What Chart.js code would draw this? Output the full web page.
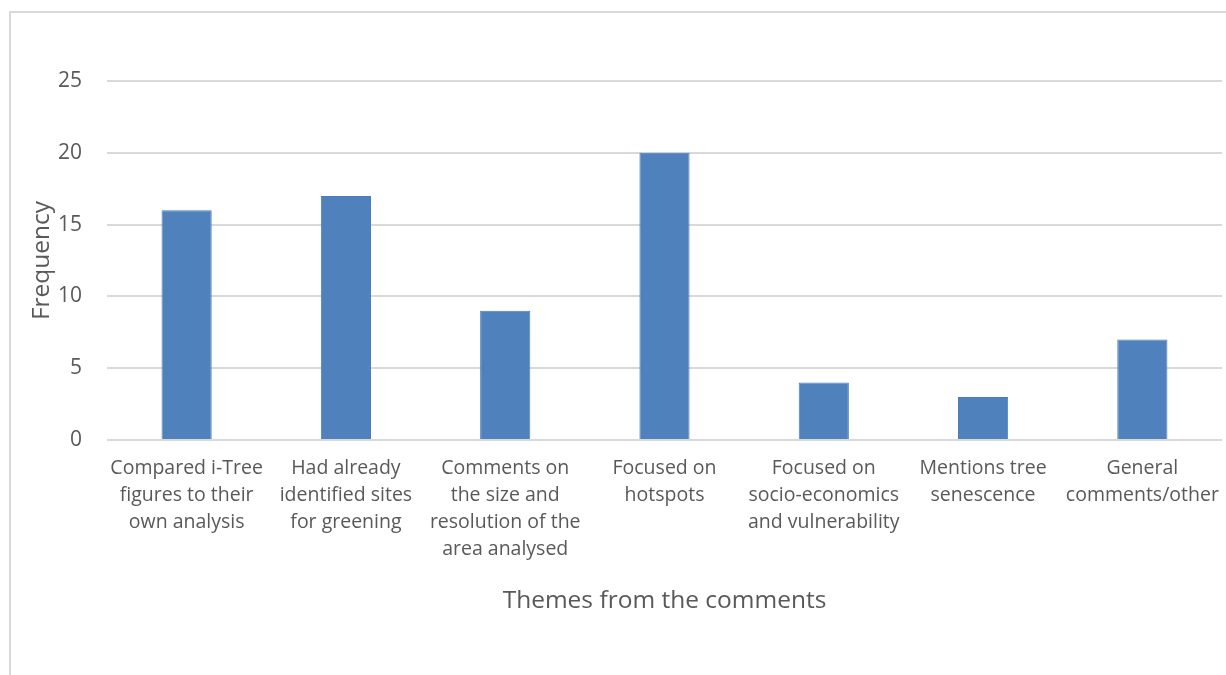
<!DOCTYPE html>
<html>
<head>
<meta charset="utf-8">
<script src="https://cdn.jsdelivr.net/npm/chart.js@4"></script>
<style>
	html, body { margin: 0; padding: 0; background: #fff; }
	#wrap {
		position: relative;
		width: 1226px;
		height: 675px;
	}
	#frame {
		position: absolute;
		left: 9px;
		top: 11px;
		right: 0;
		bottom: 0;
		border-left: 2px solid #d9d9d9;
		border-top: 2px solid #d9d9d9;
	}
	#themesChart { position: absolute; left: 0; top: 0; }
</style>
</head>
<body>
<div id="wrap">
	<div id="frame"></div>
	<canvas id="themesChart" width="1226" height="675"></canvas>
</div>
<script>
const themes = [
	['Compared i-Tree', 'figures to their', 'own analysis'],
	['Had already', 'identified sites', 'for greening'],
	['Comments on', 'the size and', 'resolution of the', 'area analysed'],
	['Focused on', 'hotspots'],
	['Focused on', 'socio-economics', 'and vulnerability'],
	['Mentions tree', 'senescence'],
	['General', 'comments/other']
];
const frequency = [16, 17, 9, 20, 4, 3, 7];

const yTicks = [0, 5, 10, 15, 20, 25];

const textGrey = '#595959';
const gridGrey = '#d9d9d9';
const fontFamily = '"Open Sans", Lato, sans-serif';

document.addEventListener('DOMContentLoaded', () => {
	const canvas = document.getElementById('themesChart');

	new Chart(canvas.getContext('2d'), {
		type: 'bar',
		data: {
			labels: themes,
			datasets: [
				{
					label: 'Frequency',
					data: frequency,
					backgroundColor: '#4f81bd',
					borderColor: '#4a7ebb',
					borderWidth: 1,
					barPercentage: 0.315,
					categoryPercentage: 1
				}
			]
		},
		options: {
			responsive: false,
			animation: false,
			layout: {
				padding: { left: 23, right: 4, top: 81, bottom: 55 }
			},
			plugins: {
				legend: { display: false },
				tooltip: { enabled: false }
			},
			scales: {
				x: {
					grid: { display: false, drawTicks: false },
					border: { display: false },
					ticks: {
						color: textGrey,
						padding: 15,
						maxRotation: 0,
						autoSkip: false,
						font: { family: fontFamily, size: 19.5, lineHeight: 1.385 }
					},
					title: {
						display: true,
						text: 'Themes from the comments',
						color: textGrey,
						font: { family: fontFamily, size: 24.5 },
						padding: { top: 4, bottom: 4 }
					},
					// fixed height, and let the last label run into the right margin
					afterFit: scale => {
						scale.height = 180;
						scale.paddingLeft = 0;
						scale.paddingRight = 0;
					}
				},
				y: {
					min: 0,
					max: 25,
					afterBuildTicks: scale => {
						scale.ticks = yTicks.map(v => ({ value: v }));
					},
					grid: { color: gridGrey, lineWidth: 2, drawTicks: false },
					border: { display: false },
					ticks: {
						color: textGrey,
						padding: 25,
						font: { family: fontFamily, size: 21 }
					},
					title: {
						display: true,
						text: 'Frequency',
						color: textGrey,
						font: { family: fontFamily, size: 24.5 },
						padding: { top: 4, bottom: 4 }
					},
					afterFit: scale => { scale.width = 84; }
				}
			}
		}
	});
});
</script>
</body>
</html>
